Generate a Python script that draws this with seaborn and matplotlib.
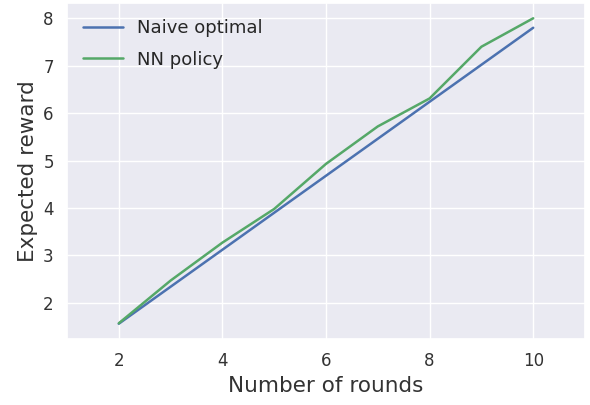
import matplotlib
matplotlib.use("Agg")
import matplotlib.pyplot as plt
import seaborn as sns
import pandas as pd

rounds = [2, 3, 4, 5, 6, 7, 8, 9, 10]
naive_optimal = [1.56, 2.34, 3.12, 3.90, 4.68, 5.46, 6.24, 7.02, 7.80]
nn_policy = [1.57, 2.47, 3.27, 3.98, 4.93, 5.72, 6.31, 7.40, 8.00]
series_names = ["Naive optimal", "NN policy"]
colors = ["#4C72B0", "#55A868"]

sns.set_theme(style="darkgrid")
plt.rcParams['font.family'] = ['DejaVu Sans']

df = pd.DataFrame({
    "rounds": rounds * 2,
    "reward": naive_optimal + nn_policy,
    "series": [series_names[0]] * len(rounds) + [series_names[1]] * len(rounds),
})

fig = plt.figure(figsize=(5.9, 4.05), dpi=100)
ax = fig.add_axes([67 / 590, 1 - 339 / 405, (585 - 67) / 590, (339 - 3) / 405])
sns.lineplot(data=df, x="rounds", y="reward", hue="series", palette=colors,
             linewidth=1.8, ax=ax)
ax.set_xlim(1, 11)
ax.set_xticks([2, 4, 6, 8, 10])
ax.set_xlabel("Number of rounds", fontsize=15.5, color="#333333")
ax.set_ylabel("Expected reward", fontsize=15.5, color="#333333")
ax.tick_params(labelsize=12, colors="#333333")
leg = ax.legend(loc="upper left", frameon=False, fontsize=13, handlelength=2.2,
                handletextpad=0.8, labelspacing=0.75)
fig.savefig("out.png", dpi=100)
